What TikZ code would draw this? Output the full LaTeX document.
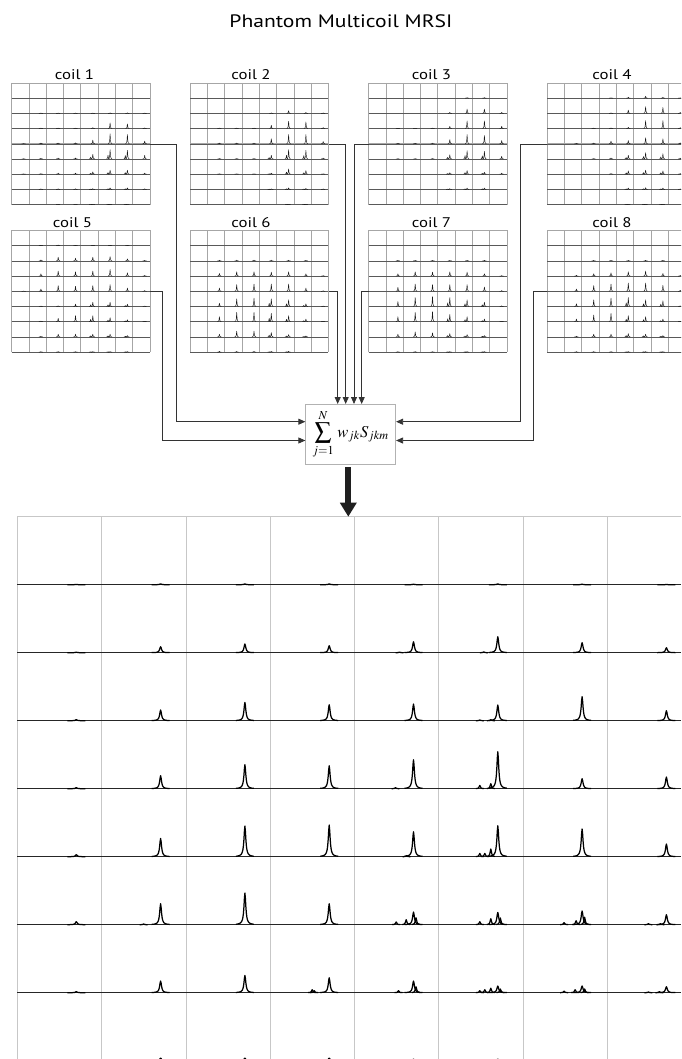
\documentclass[tikz,border=0pt]{standalone}
\usepackage{mathptmx}
\usepackage{fontspec}
\setmainfont{Liberation Serif}
\newfontfamily\labfont[FakeStretch=1.2]{PT Sans}
\usetikzlibrary{arrows.meta}

\newcommand\coilspec[3]{%
 \foreach \row [count=\r] in {#3}{%
   \draw[smallbase] (#1,#2+\r*15.2) -- (#1+138.4,#2+\r*15.2);
   \foreach \h [count=\c] in \row {%
     \ifdim\h pt>0.15pt
       \draw[smallpk] plot[domain=-2:2,samples=9,variable=\t]
        ({#1+(\c-1)*17.3+12.1+\t},{#2+\r*15.2-\h/(1+(\t/0.3)^2)});
       \ifnum\r>4 \ifnum\c>4 \ifnum\c<8
         \draw[smallpk] plot[domain=-1.5:1.5,samples=7,variable=\t]
          ({#1+(\c-1)*17.3+10+\t},{#2+\r*15.2-0.4*\h/(1+(\t/0.3)^2)});
       \fi\fi\fi
     \fi
   }%
 }%
}

\begin{document}
\begin{tikzpicture}[x=1pt,y=-1pt,
  smallgrid/.style={draw=black!35, line width=0.6pt},
  smallbase/.style={draw=black!65, line width=0.45pt},
  smallpk/.style={draw=black!90, line width=0.45pt, line join=round},
  biggrid/.style={draw=black!22, line width=0.8pt},
  bigbase/.style={draw=black!85, line width=1.1pt},
  bigpk/.style={draw=black, line width=1.25pt, line join=round},
  conn/.style={draw=black!80, line width=0.8pt},
  arr/.style={conn, -{Triangle[length=7pt,width=6pt]}},
  sumbox/.style={draw=black!30, fill=white, line width=0.7pt, minimum width=90pt, minimum height=59.7pt, inner sep=0pt},
  coilbox/.style={minimum width=138.4pt, minimum height=121.6pt, inner sep=0pt, anchor=north west},
  lab/.style={font=\labfont\fontsize{14}{16}\selectfont, anchor=base, inner sep=0pt},
  ttl/.style={font=\labfont\fontsize{18}{20}\selectfont, anchor=base, inner sep=0pt},
  bigarrow/.style={draw=black!88, line width=6pt, -{Triangle[length=14pt,width=16pt]}, shorten <=2.7pt}
]
\useasboundingbox (0,0) rectangle (681,1059);
\clip (0,0) rectangle (681,1059);

% title
\node[ttl] (title) at (340.9,27.7) {Phantom Multicoil MRSI};

% coil grids
\foreach \n/\X/\Y in {1/11.5/83, 2/190/83, 3/368.5/83, 4/547/83,
                      5/11.5/230.5, 6/190/230.5, 7/368.5/230.5, 8/547/230.5}{
  \node[coilbox] (c\n) at (\X,\Y) {};
  \foreach \k in {0,...,8}{
    \draw[smallgrid] (\X+\k*17.3,\Y) -- (\X+\k*17.3,\Y+121.6);
    \draw[smallgrid] (\X,\Y+\k*15.2) -- (\X+138.4,\Y+\k*15.2);
  }
}

% labels
\node[lab] (l1) at (74.5,80) {coil 1};
\node[lab] (l2) at (251,80) {coil 2};
\node[lab] (l3) at (431.5,80) {coil 3};
\node[lab] (l4) at (612,80) {coil 4};
\node[lab] (l5) at (72.5,227.5) {coil 5};
\node[lab] (l6) at (251,227.5) {coil 6};
\node[lab] (l7) at (431.5,227.5) {coil 7};
\node[lab] (l8) at (612,227.5) {coil 8};

% small spectra
\coilspec{11.5}{83}{{0,0,0,0,0,0,0,0},{0,0.4,0.4,0.4,0.4,0.5,0.5,0.3},{0,0.5,0.5,0.5,1,5.7,4.7,0.7},{0.3,0.7,0.7,1,3.7,10,9.3,2.7},{0.3,0.7,1,1,4.7,9.3,8.7,3.7},{0.3,0.7,1,1,2.3,4,4,1},{0,0.6,0.6,0.6,0.7,1.5,1.5,0.6},{0,0,0.3,0.3,0.3,0.3,0.3,0}}
\coilspec{190}{83}{{0,0,0,0,0,0,0,0},{0,0,0,0,0.5,2.7,1,0.5},{0,0.5,0.5,0.5,3.3,7.3,6.7,1},{0,0.7,0.7,0.7,5,9.3,9.3,2.3},{0,0.5,0.5,0.5,3.7,9.3,8.7,1},{0,0.5,0.5,0.5,1,5.3,3.7,0.5},{0,0,0,0,0.5,1.5,1,0.5},{0,0,0,0,0,0.3,0.3,0}}
\coilspec{368.5}{83}{{0,0,0,0,0,0.7,0.7,0},{0,0,0,0,1,4.3,4.3,1},{0,0.3,0.3,0.5,2.3,7.7,7.7,2.3},{0,0.5,0.5,0.7,4.3,9.3,8.3,3.3},{0,0.3,0.3,0.5,4.3,8.3,7.7,2.7},{0,0,0,0,1.5,3.7,2,1},{0,0,0,0,0.7,1.3,1.3,0},{0,0,0,0,0,0,0,0}}
\coilspec{547}{83}{{0,0,0,0.5,1,2,1,0.5},{0,0,0,0.5,3.3,6.7,6,1},{0,0,0.5,0.7,1.3,8,8,1},{0,0.5,0.7,2.7,3.3,6,5,1},{0,0,0.5,1,3.7,6.3,5.3,1},{0,0,0,0.7,3.3,4,3.3,0.7},{0,0,0,0,1.3,1.7,1.3,0.5},{0,0,0,0,0.3,0.3,0.3,0}}
\coilspec{11.5}{230.5}{{0,0.5,0.7,0.5,0.3,0.5,0.3,0},{0,1,3.7,2.7,3.7,4.3,2,0.5},{0,2.3,5,4.3,5,6.7,3.3,0.7},{0.3,2.3,5.7,5,5.7,6.7,3.3,0.7},{0,0.5,0.7,2.3,4.3,4.3,2.3,0.5},{0,0.7,3.3,6,6,4,2,0.5},{0,0.5,2.7,2.7,2.7,2.7,1.3,0},{0,0.5,0.5,0.5,0.5,0.5,0.5,0}}
\coilspec{190}{230.5}{{0,0,0,0,0,0,0,0},{0,0.7,0.7,0.7,0.7,0.7,0.5,0},{0,2.7,4.3,4.3,4,4.3,2.3,0.5},{0,3.3,6.7,7.3,7.3,7.3,3.3,0.5},{0,3.3,7.7,8.3,7.7,6.7,2.7,0.5},{0,5,9.3,9.3,8.3,6,2.7,0.5},{0,2.7,5.7,5.7,4.3,2.3,1,0},{0,0.7,0.7,0.7,0.7,0.7,0,0}}
\coilspec{368.5}{230.5}{{0,0,0,0,0,0,0,0},{0,0.5,0.5,0.5,0.5,0.5,0.5,0},{0,2.3,4.3,4,4.3,4,2.3,0.5},{0,4,7.3,6.7,6.7,6.7,4.3,0.7},{0,5,9,10,9,6.7,4.3,0.7},{0,5,9.3,10,7.3,5,2.7,0.5},{0,2.7,5,4,3.3,2.3,1.3,0},{0,0.5,0.5,0.5,0.5,0.5,0.5,0}}
\coilspec{547}{230.5}{{0,0,0,0,0,0,0,0},{0,0,0.5,0.5,0.5,0.5,0.5,0},{0,0.7,2.3,3.3,4.3,5,2.7,0.7},{0,2.3,5.7,7.3,8.3,8.3,6,1},{0,2.7,6.7,8.3,9,6.7,5.7,0.7},{0,2.7,6.7,8.3,6,5,2.7,0.5},{0,0.7,2.7,2.7,3.3,2.7,1.3,0},{0,0.5,0.5,0.5,0.5,0.5,0.5,0}}

% combining box
\node[sumbox] (sum) at (350.7,434.2) {\fontsize{16.5}{18}\selectfont$\displaystyle\sum_{j=1}^{N}\, w_{jk}S_{jkm}$};

% connectors
\coordinate (b1) at (176.5,421.7);
\coordinate (b5) at (162.7,440.5);
\coordinate (b4) at (520.7,421.7);
\coordinate (b8) at (533.7,440.5);
\coordinate (x6) at (337.7,0);
\coordinate (x2) at (345.7,0);
\coordinate (x3) at (354,0);
\coordinate (x7) at (361.7,0);
\draw[arr] (c1.east) -| (b1) -- (b1 -| sum.west);
\draw[arr] (c5.east) -| (b5) -- (b5 -| sum.west);
\draw[arr] (c4.west) -| (b4) -- (b4 -| sum.east);
\draw[arr] (c8.west) -| (b8) -- (b8 -| sum.east);
\draw[arr] (c6.east) -| (x6 |- sum.north);
\draw[arr] (c2.east) -| (x2 |- sum.north);
\draw[arr] (c3.west) -| (x3 |- sum.north);
\draw[arr] (c7.west) -| (x7 |- sum.north);

% big grid
\coordinate (gtop) at (348.3,516.7);
\foreach \k in {0,...,7}
  \draw[biggrid] (17.3+\k*84.3,516.7) -- (17.3+\k*84.3,1059);
\foreach \k in {0,...,8}
  \draw[biggrid] (17.3,516.7+\k*68) -- (681,516.7+\k*68);
\foreach \r in {1,...,8}
  \draw[bigbase] (17.3,516.7+\r*68) -- (681,516.7+\r*68);

\foreach \row [count=\r] in {{0.3,0.8,0.8,0.8,0.5,0.8,0.5,0.2},{0.5,6,8.7,7,11,16,10,5},{1,10.7,18.3,16,16.7,15.7,24,10},{1,13,24,23,29,37,10,11.7},{2,18.3,30.7,31.7,25,31,27.7,12.7},{3,21,31.7,21,12.7,12.3,13.7,10},{1,11.7,17.3,15,11.7,6.7,6.7,6},{0,2.5,2.5,2.5,1.5,1.5,0,0}}{
  \foreach \h [count=\c] in \row {
    \ifdim\h pt>0.15pt
      \draw[bigpk] plot[domain=-9:9,samples=37,variable=\t]
        ({17.3+(\c-1)*84.3+59+\t},{516.7+\r*68-\h/(1+(\t/1.1)^2)});
    \fi
  }
}
\foreach \r/\c/\o/\h in {2/5/45/0.6, 2/6/45/0.8, 3/6/41/0.7, 3/6/52/1,
  4/5/41/1, 4/6/41/3.3, 4/6/52/5,
  5/5/52/1, 5/6/41/3.3, 5/6/46/3.3, 5/6/52/7.7,
  6/2/42/0.7, 6/5/41.7/2.7, 6/5/51.7/5, 6/5/61.5/7, 6/6/41/3, 6/6/52/6, 6/6/61.5/6.8,
  6/7/41/2, 6/7/53/4, 6/7/61.5/7.5, 6/8/41/1, 6/8/53/1,
  7/4/42/3, 7/4/44/2, 7/5/44/2, 7/5/61.5/6, 7/6/41/2, 7/6/46/3, 7/6/52/4.5, 7/6/61.5/3.7,
  7/7/41/1.5, 7/7/52/3, 7/7/61.5/3.7, 7/8/41/0.7, 7/8/52/1}{
  \draw[bigpk] plot[domain=-4:4,samples=17,variable=\t]
    ({17.3+(\c-1)*84.3+\o+\t},{516.7+\r*68-\h/(1+(\t/0.8)^2)});
}

% combined arrow
\draw[bigarrow] (sum.south -| gtop) -- (gtop);
\end{tikzpicture}
\end{document}
